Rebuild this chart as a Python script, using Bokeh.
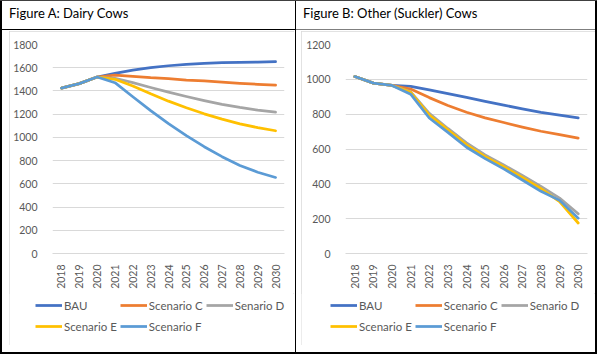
import math
from bokeh.plotting import figure
from bokeh.models import (Range1d, FixedTicker, Legend, LegendItem, Div)
from bokeh.layouts import row, column
from bokeh.embed import file_html
from bokeh.resources import INLINE

# ---------------- data ----------------
years = ["2018", "2019", "2020", "2021", "2022", "2023", "2024",
         "2025", "2026", "2027", "2028", "2029", "2030"]
series_names = ["BAU", "Scenario C", "Senario D", "Scenario E", "Scenario F"]
series_colors = ["#4472C4", "#ED7D31", "#A5A5A5", "#FFC000", "#5B9BD5"]

title_a = "Figure A: Dairy Cows"
dairy_bau = [1425, 1463, 1520, 1551, 1580, 1600, 1617, 1629, 1637, 1643, 1646, 1649, 1652]
dairy_c   = [1425, 1463, 1520, 1537, 1526, 1514, 1506, 1494, 1486, 1477, 1466, 1457, 1450]
dairy_d   = [1425, 1463, 1520, 1509, 1471, 1430, 1390, 1352, 1317, 1285, 1258, 1235, 1217]
dairy_e   = [1425, 1463, 1520, 1500, 1443, 1375, 1312, 1255, 1203, 1157, 1117, 1084, 1057]
dairy_f   = [1425, 1463, 1520, 1471, 1350, 1230, 1118, 1015, 920, 834, 758, 700, 655]
dairy_ymax = 1800

title_b = "Figure B: Other (Suckler) Cows"
suckler_bau = [1016, 978, 965, 960, 940, 918, 896, 874, 852, 830, 810, 794, 779]
suckler_c   = [1016, 978, 965, 944, 895, 850, 811, 779, 752, 726, 702, 682, 663]
suckler_d   = [1016, 978, 965, 928, 805, 718, 635, 566, 508, 448, 385, 318, 228]
suckler_e   = [1016, 978, 965, 925, 795, 710, 624, 556, 498, 436, 372, 298, 175]
suckler_f   = [1016, 978, 965, 915, 778, 695, 610, 545, 486, 422, 357, 305, 203]
suckler_ymax = 1200

FONT = "Lato"
GRAY_TXT = "#595959"
GRID = "#D9D9D9"


def make_chart(width, border_left, border_right, ymax, values, legend_x, margin):
    p = figure(width=width, height=262, x_range=years, y_range=Range1d(0, ymax),
               output_backend="svg", toolbar_location=None,
               min_border_left=border_left, min_border_right=border_right,
               min_border_top=13, min_border_bottom=40, margin=0)
    p.outline_line_color = None
    p.background_fill_color = "white"
    p.border_fill_color = "white"
    p.xgrid.grid_line_color = None
    p.ygrid.grid_line_color = GRID
    p.ygrid.grid_line_width = 1
    p.yaxis.ticker = FixedTicker(ticks=list(range(0, ymax + 1, 200)))
    p.yaxis.axis_line_color = None
    p.yaxis.major_tick_line_color = None
    p.yaxis.minor_tick_line_color = None
    p.yaxis.major_label_standoff = 9
    p.xaxis.axis_line_color = GRID
    p.xaxis.major_tick_line_color = None
    p.xaxis.major_label_orientation = math.pi / 2
    p.xaxis.major_label_standoff = 5
    for ax in (p.xaxis, p.yaxis):
        ax.major_label_text_font = FONT
        ax.major_label_text_font_size = "10.5px"
        ax.major_label_text_color = GRAY_TXT

    for color, vals in zip(series_colors, values):
        p.line(years, vals, line_color=color, line_width=2.75,
               line_cap="round", line_join="round")

    # legend strip: same series drawn on a canvas whose y-range hides them,
    # so the legend gets its own unclipped frame below the chart
    lg = figure(width=width, height=52, x_range=years,
                y_range=Range1d(10 * ymax, 11 * ymax),
                x_axis_type=None, y_axis_type=None,
                output_backend="svg", toolbar_location=None,
                min_border=0, min_border_left=0, min_border_right=0,
                min_border_top=0, min_border_bottom=0, margin=0)
    lg.outline_line_color = None
    lg.grid.grid_line_color = None
    lg.border_fill_color = "white"
    lg.background_fill_color = "white"
    items = []
    for name, color, vals in zip(series_names, series_colors, values):
        r = lg.line(years, vals, line_color=color, line_width=2.75)
        items.append(LegendItem(label=name, renderers=[r]))
    legend = Legend(items=items, location=(legend_x, 10), orientation="horizontal",
                    ncols=3, padding=0, spacing=3, margin=0,
                    glyph_width=27, glyph_height=18, label_height=18,
                    label_width=50, label_standoff=2,
                    label_text_font=FONT, label_text_font_size="11.5px",
                    label_text_color=GRAY_TXT,
                    border_line_color=None, background_fill_alpha=0)
    lg.add_layout(legend)

    return column(p, row(lg, spacing=0, margin=0), spacing=0, margin=margin,
                  styles={"outline": "1px solid #D9D9D9", "outline-offset": "-1px"})


def bar(w, h, color):
    return Div(text="", width=w, height=h, margin=0,
               styles={"background-color": color})


def title_div(text, w):
    html = ('<div style="padding:5px 0 0 7px;font-family:Lato;font-size:13px;'
            'line-height:14px;color:#000;white-space:nowrap">' + text + '</div>')
    return Div(text=html, width=w, height=28, margin=0)


chart_a = make_chart(285, 43, 10, dairy_ymax,
                     [dairy_bau, dairy_c, dairy_d, dairy_e, dairy_f], 26, (1, 1, 7, 7))
chart_b = make_chart(294, 44, 8, suckler_ymax,
                     [suckler_bau, suckler_c, suckler_d, suckler_e, suckler_f], 29, (1, 0, 7, 5))

panel_a = column(title_div(title_a, 293), bar(293, 1, "#000000"), chart_a, spacing=0, margin=0)
panel_b = column(title_div(title_b, 299), bar(299, 1, "#7F7F7F"), chart_b, spacing=0, margin=0)

root = column(
    bar(597, 1, "#404040"),
    row(bar(2, 351, "#000000"), panel_a, bar(1, 351, "#000000"), panel_b,
        bar(2, 351, "#000000"), spacing=0, margin=0),
    bar(597, 2, "#000000"),
    spacing=0, margin=0)

open("out.html", "w").write(file_html(root, INLINE))
